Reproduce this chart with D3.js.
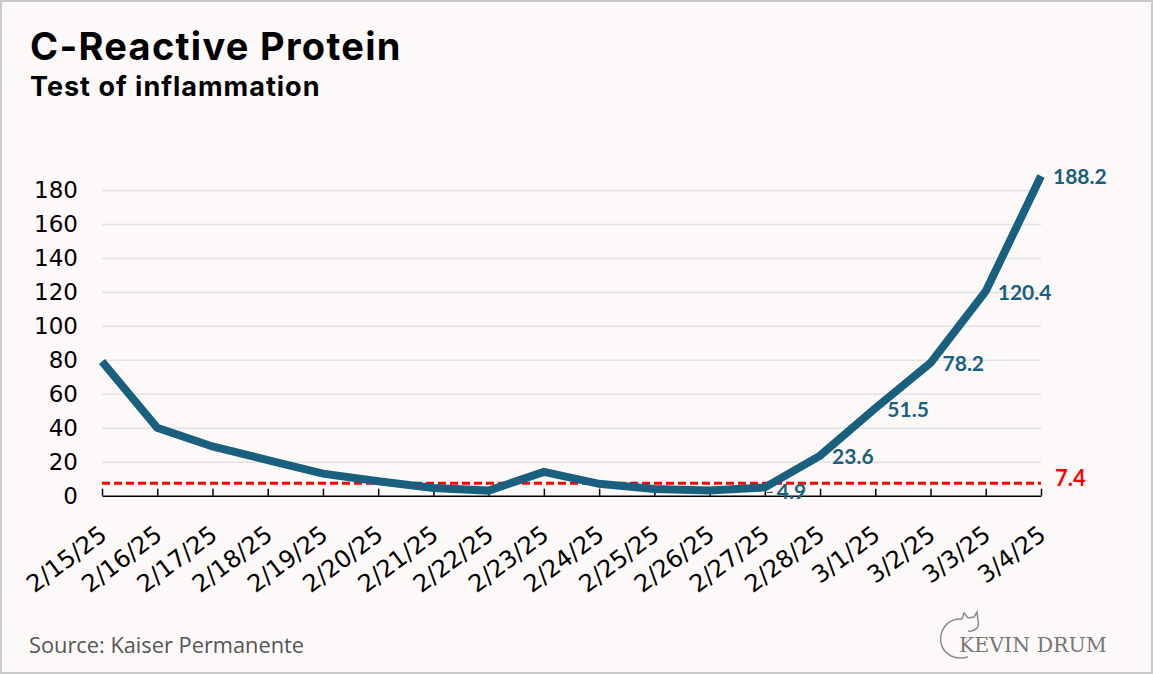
<!DOCTYPE html>
<html>
<head>
<meta charset="utf-8">
<script src="https://cdn.jsdelivr.net/npm/d3@7"></script>
<style>
  html, body { margin: 0; padding: 0; background: #fdf9f8; }
  svg { display: block; }
</style>
</head>
<body>
<svg id="chart"></svg>
<script>
// CRP readings, one per day
const dates = ["2/15/25", "2/16/25", "2/17/25", "2/18/25", "2/19/25", "2/20/25", "2/21/25",
  "2/22/25", "2/23/25", "2/24/25", "2/25/25", "2/26/25", "2/27/25", "2/28/25",
  "3/1/25", "3/2/25", "3/3/25", "3/4/25"];
const crpValues = [79, 40, 29, 21, 13, 8.5, 4.5, 3, 14, 7, 4, 3, 4.9, 23.6, 51.5, 78.2, 120.4, 188.2];
const labelledDates = ["2/27/25", "2/28/25", "3/1/25", "3/2/25", "3/3/25", "3/4/25"];
const normalLimit = 7.4;
const yTicks = [0, 20, 40, 60, 80, 100, 120, 140, 160, 180];

const width = 1153;
const height = 674;
const margin = ({top: 190, right: 112, bottom: 178, left: 102});
const blue = "#19607f";

const data = dates.map((d, i) => ({date: d, value: crpValues[i]}));

const svg = d3.select("#chart")
    .attr("width", width)
    .attr("height", height)
    .attr("viewBox", [0, 0, width, height]);

// frame
svg.append("rect")
    .attr("x", 1).attr("y", 1)
    .attr("width", width - 2).attr("height", height - 2)
    .attr("fill", "#fdf9f8")
    .attr("stroke", "#c9c9c9")
    .attr("stroke-width", 2);

const x = d3.scalePoint()
    .domain(dates)
    .range([margin.left, width - margin.right]);

const y = d3.scaleLinear()
    .domain([0, 180])
    .range([height - margin.bottom - 0.3, margin.top]);

// titles
svg.append("text")
    .attr("x", 30).attr("y", 60)
    .attr("font-family", "Inter, 'Noto Sans', sans-serif")
    .attr("font-weight", 700)
    .attr("font-size", 38)
    .attr("letter-spacing", 1.3)
    .attr("fill", "#000")
    .text("C-Reactive Protein");

svg.append("text")
    .attr("x", 30).attr("y", 96)
    .attr("font-family", "Inter, 'Noto Sans', sans-serif")
    .attr("font-weight", 700)
    .attr("font-size", 27)
    .attr("letter-spacing", 1)
    .attr("fill", "#000")
    .text("Test of inflammation");

// gridlines + y labels
const yAxis = g => g
    .attr("transform", `translate(${margin.left},0)`)
    .call(d3.axisLeft(y).tickValues(yTicks).tickSize(-(width - margin.right - margin.left)).tickPadding(24))
    .call(g => g.select(".domain").remove())
    .call(g => g.selectAll(".tick line")
        .attr("stroke", "#e4e2e1")
        .attr("stroke-width", 1.5)
        .filter(d => d === 0).remove())
    .call(g => g.selectAll(".tick text")
        .attr("font-family", "'DejaVu Sans', Verdana, sans-serif")
        .attr("font-size", 23)
        .attr("fill", "#000"));

svg.append("g").call(yAxis);

// x axis, ticks pointing up
const xAxis = g => g
    .attr("transform", `translate(0,${y(0)})`)
    .call(d3.axisBottom(x).tickSize(-7).tickSizeOuter(0).tickPadding(0))
    .call(g => g.select(".domain").attr("stroke", "#000").attr("stroke-width", 1.5))
    .call(g => g.selectAll(".tick line").attr("stroke", "#000").attr("stroke-width", 1.5))
    .call(g => g.selectAll(".tick text")
        .attr("font-family", "'DejaVu Sans', Verdana, sans-serif")
        .attr("font-size", 24)
        .attr("fill", "#000")
        .attr("text-anchor", "end")
        .attr("dy", null)
        .attr("y", 0)
        .attr("transform", "translate(6,42) rotate(-37)"));

svg.append("g").call(xAxis);

// normal limit
svg.append("line")
    .attr("x1", margin.left)
    .attr("x2", width - margin.right)
    .attr("y1", y(normalLimit))
    .attr("y2", y(normalLimit))
    .attr("stroke", "#ff0000")
    .attr("stroke-width", 3)
    .attr("stroke-dasharray", "8,4");

svg.append("text")
    .attr("x", width - margin.right + 14)
    .attr("y", y(normalLimit) - 5)
    .attr("dy", "0.35em")
    .attr("font-family", "Lato, 'Open Sans', sans-serif")
    .attr("font-weight", 700)
    .attr("font-size", 22)
    .attr("fill", "#ff0000")
    .text(normalLimit);

// CRP line
const line = d3.line()
    .x(d => x(d.date))
    .y(d => y(d.value));

svg.append("path")
    .datum(data)
    .attr("fill", "none")
    .attr("stroke", blue)
    .attr("stroke-width", 8)
    .attr("stroke-linejoin", "miter")
    .attr("d", line);

// value labels
const labelled = data.filter(d => labelledDates.includes(d.date));

svg.append("g")
  .selectAll("text")
  .data(labelled)
  .join("text")
    .attr("x", d => x(d.date) + 12)
    .attr("y", d => y(d.value) + (d.value < 10 ? 4 : 1))
    .attr("dy", "0.35em")
    .attr("font-family", "Lato, 'Open Sans', sans-serif")
    .attr("font-weight", 700)
    .attr("font-size", 21)
    .attr("fill", blue)
    .text(d => d.value);

// little leader next to the 4.9 label
const low = labelled[0];
svg.append("line")
    .attr("x1", x(low.date) + 2)
    .attr("x2", x(low.date) + 8)
    .attr("y1", y(low.value) + 5)
    .attr("y2", y(low.value) + 5)
    .attr("stroke", "#333")
    .attr("stroke-width", 1);

// source
svg.append("text")
    .attr("x", 29).attr("y", 653)
    .attr("font-family", "'Open Sans', Lato, sans-serif")
    .attr("font-size", 21.8)
    .attr("fill", "#555")
    .text("Source: Kaiser Permanente");

// logo
const logo = svg.append("g").attr("transform", "translate(938,610)");
logo.append("path")
    .attr("d", "M24,9 C8,8 1,22 3,33 C6,46 18,50 30,47 M24,9 L26,3 L30,8 L36,7 L39,2 L40,11 C42,17 37,22 30,21")
    .attr("fill", "none")
    .attr("stroke", "#8a8a8a")
    .attr("stroke-width", 1.5);
logo.append("text")
    .attr("x", 21).attr("y", 42)
    .attr("font-family", "'DejaVu Serif', 'Liberation Serif', serif")
    .attr("font-size", 20.5)
    .attr("fill", "#777")
    .text("KEVIN DRUM");
</script>
</body>
</html>
